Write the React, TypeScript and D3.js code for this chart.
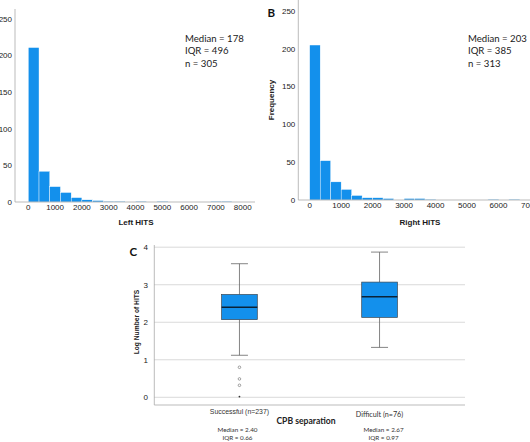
import React from "react";
import * as d3 from "d3";

// Panel A: Left HITS histogram (bin width 400)
const leftBinWidth = 400;
const leftCounts = [211, 42, 21, 13, 6, 3, 2, 1, 1, 0, 1, 0, 1, 0, 0, 0, 0, 1, 1];
const leftTicksX = [0, 1000, 2000, 3000, 4000, 5000, 6000, 7000, 8000];
const leftStats = ["Median = 178", "IQR = 496", "n = 305"];

// Panel B: Right HITS histogram (bin width 1000/3)
const rightBinWidth = 1000 / 3;
const rightCounts = [205, 52, 24, 14, 6, 3, 3, 2, 0, 2, 2, 1, 0, 0, 0, 0, 0, 1, 0, 1];
const rightTicksX = [0, 1000, 2000, 3000, 4000, 5000, 6000, 7000];
const rightStats = ["Median = 203", "IQR = 385", "n = 313"];

const freqTicks = [0, 50, 100, 150, 200, 250];

// Panel C: box plots
const groups = ["Successful (n=237)", "Difficult (n=76)"];
const whiskerLow = [1.12, 1.33];
const q1 = [2.07, 2.13];
const medians = [2.4, 2.68];
const q3 = [2.74, 3.07];
const whiskerHigh = [3.56, 3.87];
const outliers = [[0.8, 0.49, 0.32], []];
const extremes = [[0.02], []];
const groupMedianText = ["Median = 2.40", "Median = 2.67"];
const groupIqrText = ["IQR = 0.66", "IQR = 0.97"];
const logTicks = [0, 1, 2, 3, 4];

const BLUE = "#1390EC";
const TICK_FONT = "'Liberation Sans', Arial, sans-serif";
const CAL = "Lato, 'Open Sans', sans-serif";
const TICK_FILL = "#222";

function Histogram(props: {
  counts: number[];
  binWidth: number;
  xDomainMax: number;
  xRange: [number, number];
  yRange: [number, number];
  ticks: number[];
  axisX: number;
  axisTop: number;
  axisRight: number;
  stats: string[];
  statsX: number;
  title: string;
  titleX: number;
  titleY: number;
}) {
  const x = d3.scaleLinear().domain([0, props.xDomainMax]).range(props.xRange);
  const y = d3.scaleLinear().domain([0, 250]).range(props.yRange);
  const y0 = y(0);
  return (
    <g>
      {props.counts.map((c, i) =>
        c > 0 ? (
          <rect
            key={i}
            x={x(i * props.binWidth)}
            y={y(c)}
            width={x((i + 1) * props.binWidth) - x(i * props.binWidth)}
            height={y0 - y(c)}
            fill={BLUE}
            stroke="#ffffff"
            strokeWidth={0.4}
          />
        ) : null
      )}
      <line x1={props.axisX} x2={props.axisX} y1={props.axisTop} y2={y0} stroke="#aaaaaa" strokeWidth={0.8} />
      <line x1={props.axisX} x2={props.axisRight} y1={y0} y2={y0} stroke="#aaaaaa" strokeWidth={0.8} />
      {freqTicks.map((t) => (
        <text key={t} x={props.axisX - 3} y={y(t) + 2.8} textAnchor="end" fontFamily={TICK_FONT} fontSize={8} fill={TICK_FILL}>
          {t}
        </text>
      ))}
      {props.ticks.map((t) => (
        <text key={t} x={x(t)} y={y0 + 8} textAnchor="middle" fontFamily={TICK_FONT} fontSize={8} fill={TICK_FILL}>
          {t}
        </text>
      ))}
      {props.stats.map((s, i) => (
        <text key={s} x={props.statsX} y={41.5 + i * 12.6} fontFamily={CAL} fontSize={9.6} fill="#1a1a1a">
          {s}
        </text>
      ))}
      <text x={props.titleX} y={props.titleY} textAnchor="middle" fontFamily={TICK_FONT} fontSize={8} fontWeight="bold" fill="#1a1a1a">
        {props.title}
      </text>
    </g>
  );
}

function BoxPlot() {
  const y = d3.scaleLinear().domain([0, 4]).range([397.3, 247.2]);
  const x = d3.scalePoint<string>().domain(groups).range([154, 465]).padding(0.61);
  const bw = 35.7;
  const capW = 17;
  return (
    <g>
      {logTicks.map((t) => (
        <g key={t}>
          <line x1={154} x2={465} y1={y(t)} y2={y(t)} stroke="#d0d0d0" strokeWidth={0.8} />
          <text x={148} y={y(t) + 2.8} textAnchor="end" fontFamily={TICK_FONT} fontSize={8} fill={TICK_FILL}>
            {t}
          </text>
        </g>
      ))}
      <line x1={154.3} x2={154.3} y1={245} y2={405} stroke="#aaaaaa" strokeWidth={0.8} />
      <line x1={154.3} x2={465} y1={405} y2={405} stroke="#aaaaaa" strokeWidth={0.8} />
      {groups.map((g, i) => {
        const cx = x(g) as number;
        return (
          <g key={g}>
            <line x1={cx} x2={cx} y1={y(whiskerHigh[i])} y2={y(q3[i])} stroke="#666" strokeWidth={0.8} />
            <line x1={cx} x2={cx} y1={y(q1[i])} y2={y(whiskerLow[i])} stroke="#666" strokeWidth={0.8} />
            <line x1={cx - capW / 2} x2={cx + capW / 2} y1={y(whiskerHigh[i])} y2={y(whiskerHigh[i])} stroke="#666" strokeWidth={0.8} />
            <line x1={cx - capW / 2} x2={cx + capW / 2} y1={y(whiskerLow[i])} y2={y(whiskerLow[i])} stroke="#666" strokeWidth={0.8} />
            <rect x={cx - bw / 2} y={y(q3[i])} width={bw} height={y(q1[i]) - y(q3[i])} fill={BLUE} stroke="#3a4652" strokeWidth={0.7} />
            <line x1={cx - bw / 2} x2={cx + bw / 2} y1={y(medians[i])} y2={y(medians[i])} stroke="#0b2236" strokeWidth={1.6} />
            {outliers[i].map((o, j) => (
              <circle key={j} cx={cx} cy={y(o)} r={1.3} fill="none" stroke="#666" strokeWidth={0.6} />
            ))}
            {extremes[i].map((o, j) => (
              <circle key={j} cx={cx} cy={y(o)} r={0.9} fill="#333" />
            ))}
            <text x={cx} y={i === 0 ? 414 : 417} textAnchor="middle" fontFamily={i === 0 ? TICK_FONT : CAL} fontSize={i === 0 ? 6.9 : 7.2} fill="#333">
              {g}
            </text>
            <text x={cx + (i === 0 ? -2 : 4)} y={432} textAnchor="middle" fontFamily={CAL} fontSize={6.3} fill="#333">
              {groupMedianText[i]}
            </text>
            <text x={cx + (i === 0 ? -2 : 4)} y={440} textAnchor="middle" fontFamily={CAL} fontSize={6.3} fill="#333">
              {groupIqrText[i]}
            </text>
          </g>
        );
      })}
      <text x={306} y={424} textAnchor="middle" fontFamily={CAL} fontSize={8.6} fontWeight="bold" fill="#222">
        CPB separation
      </text>
      <text
        transform="translate(139,322) rotate(-90)"
        textAnchor="middle"
        fontFamily={TICK_FONT}
        fontSize={6.7}
        fontWeight="bold"
        fill="#222"
      >
        Log Number of HITS
      </text>
      <text x={129.5} y={256} fontFamily={CAL} fontSize={11.5} fontWeight="bold" fill="#111">
        C
      </text>
    </g>
  );
}

export default function App() {
  return (
    <svg width={530} height={442} style={{ position: "absolute", left: 0, top: 0, background: "#fff" }}>
      <rect x={0} y={0} width={530} height={442} fill="#fff" />
      <Histogram
        counts={leftCounts}
        binWidth={leftBinWidth}
        xDomainMax={8000}
        xRange={[28.3, 242.7]}
        yRange={[202, 19]}
        ticks={leftTicksX}
        axisX={15}
        axisTop={9}
        axisRight={255}
        stats={leftStats}
        statsX={185}
        title="Left HITS"
        titleX={136}
        titleY={225}
      />
      <Histogram
        counts={rightCounts}
        binWidth={rightBinWidth}
        xDomainMax={7000}
        xRange={[309.7, 529.9]}
        yRange={[200, 11]}
        ticks={rightTicksX}
        axisX={298.3}
        axisTop={0}
        axisRight={530}
        stats={rightStats}
        statsX={468}
        title="Right HITS"
        titleX={420}
        titleY={224.5}
      />
      <text
        transform="translate(274,100) rotate(-90)"
        textAnchor="middle"
        fontFamily={TICK_FONT}
        fontSize={8}
        fontWeight="bold"
        fill="#222"
      >
        Frequency
      </text>
      <text x={267.5} y={16.5} fontFamily={CAL} fontSize={11.5} fontWeight="bold" fill="#111">
        B
      </text>
      <BoxPlot />
    </svg>
  );
}
